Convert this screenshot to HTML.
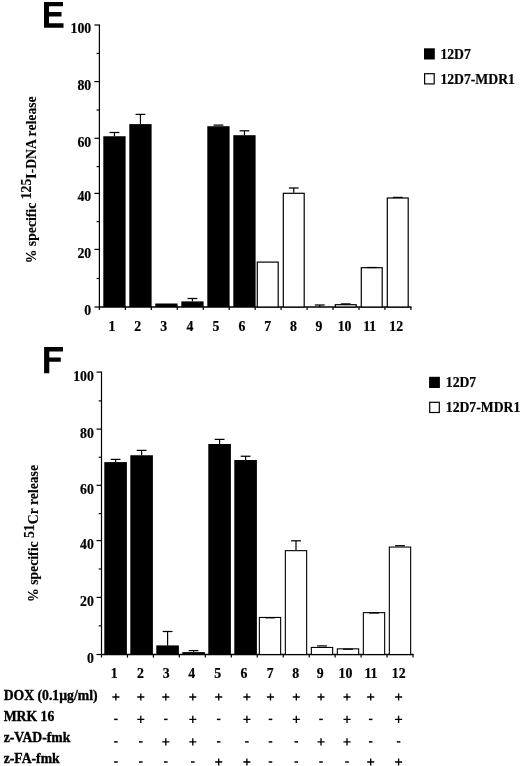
<!DOCTYPE html>
<html><head><meta charset="utf-8"><style>
html,body{margin:0;padding:0;background:#fff;}
body{width:520px;height:766px;overflow:hidden;position:relative;}
svg{position:absolute;left:0;top:0;filter:grayscale(1);}
text{font-family:"Liberation Serif", serif;font-weight:bold;fill:#000;stroke:#000;stroke-width:0.35px;}
.t{font-size:13.8px;stroke-width:0.2px;}
.l{font-size:13.7px;stroke-width:0.2px;}
.tb{font-size:13.7px;}
.tt{font-size:13.72px;stroke-width:0.12px;}
.big{font-family:"Liberation Sans", sans-serif;font-size:37px;}
</style></head><body>
<svg width="520" height="766" viewBox="0 0 520 766">
<rect width="520" height="766" fill="#fff"/>
<path d="M44 2H63V6.3H49V12H61.5V16.5H49V23.3H63.5V27.8H44Z" fill="#000"/>
<path d="M44.1 347H63V351.5H49.3V357.5H60.8V361.8H49.3V373.2H44.1Z" fill="#000"/>
<line x1="99.4" y1="24.4" x2="99.4" y2="310.1" stroke="#000" stroke-width="1.2"/>
<line x1="98.80000000000001" y1="307" x2="411.52" y2="307" stroke="#000" stroke-width="1.5"/>
<line x1="94.4" y1="25.00" x2="99.4" y2="25.00" stroke="#000" stroke-width="1.2"/>
<line x1="96.60000000000001" y1="53.40" x2="99.4" y2="53.40" stroke="#000" stroke-width="1.2"/>
<line x1="94.4" y1="81.60" x2="99.4" y2="81.60" stroke="#000" stroke-width="1.2"/>
<line x1="96.60000000000001" y1="110.00" x2="99.4" y2="110.00" stroke="#000" stroke-width="1.2"/>
<line x1="94.4" y1="138.30" x2="99.4" y2="138.30" stroke="#000" stroke-width="1.2"/>
<line x1="96.60000000000001" y1="166.60" x2="99.4" y2="166.60" stroke="#000" stroke-width="1.2"/>
<line x1="94.4" y1="193.40" x2="99.4" y2="193.40" stroke="#000" stroke-width="1.2"/>
<line x1="96.60000000000001" y1="221.60" x2="99.4" y2="221.60" stroke="#000" stroke-width="1.2"/>
<line x1="94.4" y1="249.40" x2="99.4" y2="249.40" stroke="#000" stroke-width="1.2"/>
<line x1="96.60000000000001" y1="278.50" x2="99.4" y2="278.50" stroke="#000" stroke-width="1.2"/>
<line x1="94.4" y1="307.00" x2="99.4" y2="307.00" stroke="#000" stroke-width="1.2"/>
<line x1="125.36" y1="307" x2="125.36" y2="310.1" stroke="#000" stroke-width="1.2"/>
<line x1="151.32" y1="307" x2="151.32" y2="310.1" stroke="#000" stroke-width="1.2"/>
<line x1="177.28" y1="307" x2="177.28" y2="310.1" stroke="#000" stroke-width="1.2"/>
<line x1="203.24" y1="307" x2="203.24" y2="310.1" stroke="#000" stroke-width="1.2"/>
<line x1="229.20" y1="307" x2="229.20" y2="310.1" stroke="#000" stroke-width="1.2"/>
<line x1="255.16" y1="307" x2="255.16" y2="310.1" stroke="#000" stroke-width="1.2"/>
<line x1="281.12" y1="307" x2="281.12" y2="310.1" stroke="#000" stroke-width="1.2"/>
<line x1="307.08" y1="307" x2="307.08" y2="310.1" stroke="#000" stroke-width="1.2"/>
<line x1="333.04" y1="307" x2="333.04" y2="310.1" stroke="#000" stroke-width="1.2"/>
<line x1="359.00" y1="307" x2="359.00" y2="310.1" stroke="#000" stroke-width="1.2"/>
<line x1="384.96" y1="307" x2="384.96" y2="310.1" stroke="#000" stroke-width="1.2"/>
<line x1="410.92" y1="307" x2="410.92" y2="310.1" stroke="#000" stroke-width="1.2"/>
<rect x="103.30" y="136.25" width="22.30" height="170.75" fill="#000"/>
<line x1="114.45" y1="132.50" x2="114.45" y2="136.25" stroke="#000" stroke-width="1.2"/>
<line x1="109.55" y1="132.50" x2="119.35" y2="132.50" stroke="#000" stroke-width="1.25"/>
<rect x="129.30" y="124.10" width="22.30" height="182.90" fill="#000"/>
<line x1="140.45" y1="114.40" x2="140.45" y2="124.10" stroke="#000" stroke-width="1.2"/>
<line x1="135.55" y1="114.40" x2="145.35" y2="114.40" stroke="#000" stroke-width="1.25"/>
<rect x="155.30" y="303.50" width="22.30" height="3.50" fill="#000"/>
<rect x="181.30" y="301.40" width="22.30" height="5.60" fill="#000"/>
<line x1="192.45" y1="298.50" x2="192.45" y2="301.40" stroke="#000" stroke-width="1.2"/>
<line x1="187.55" y1="298.50" x2="197.35" y2="298.50" stroke="#000" stroke-width="1.25"/>
<rect x="207.30" y="126.20" width="22.30" height="180.80" fill="#000"/>
<line x1="213.55" y1="125.10" x2="223.35" y2="125.10" stroke="#000" stroke-width="1.25"/>
<rect x="233.30" y="135.20" width="22.30" height="171.80" fill="#000"/>
<line x1="244.45" y1="130.80" x2="244.45" y2="135.20" stroke="#000" stroke-width="1.2"/>
<line x1="239.55" y1="130.80" x2="249.35" y2="130.80" stroke="#000" stroke-width="1.25"/>
<rect x="257.30" y="262.10" width="20.90" height="44.90" fill="#fff" stroke="#000" stroke-width="1.2"/>
<rect x="283.30" y="193.30" width="20.90" height="113.70" fill="#fff" stroke="#000" stroke-width="1.2"/>
<line x1="293.75" y1="188.00" x2="293.75" y2="192.70" stroke="#000" stroke-width="1.2"/>
<line x1="288.85" y1="188.00" x2="298.65" y2="188.00" stroke="#000" stroke-width="1.25"/>
<line x1="319.75" y1="305.00" x2="319.75" y2="307.00" stroke="#000" stroke-width="1.2"/>
<line x1="314.85" y1="305.00" x2="324.65" y2="305.00" stroke="#000" stroke-width="1.25"/>
<rect x="335.30" y="304.70" width="20.90" height="2.30" fill="#fff" stroke="#000" stroke-width="1.2"/>
<line x1="340.85" y1="303.90" x2="350.65" y2="303.90" stroke="#000" stroke-width="1.25"/>
<rect x="361.30" y="267.70" width="20.90" height="39.30" fill="#fff" stroke="#000" stroke-width="1.2"/>
<line x1="366.85" y1="267.50" x2="376.65" y2="267.50" stroke="#000" stroke-width="1.25"/>
<rect x="387.30" y="198.00" width="20.90" height="109.00" fill="#fff" stroke="#000" stroke-width="1.2"/>
<line x1="392.85" y1="197.40" x2="402.65" y2="197.40" stroke="#000" stroke-width="1.25"/>
<text x="91.2" y="33.40" text-anchor="end" class="t">100</text>
<text x="91.2" y="89.95" text-anchor="end" class="t">80</text>
<text x="91.2" y="147.10" text-anchor="end" class="t">60</text>
<text x="91.2" y="201.45" text-anchor="end" class="t">40</text>
<text x="91.2" y="258.00" text-anchor="end" class="t">20</text>
<text x="91.2" y="314.75" text-anchor="end" class="t">0</text>
<text x="112.00" y="331.35" text-anchor="middle" class="t">1</text>
<text x="137.70" y="331.35" text-anchor="middle" class="t">2</text>
<text x="163.80" y="331.35" text-anchor="middle" class="t">3</text>
<text x="190.00" y="331.35" text-anchor="middle" class="t">4</text>
<text x="216.00" y="331.35" text-anchor="middle" class="t">5</text>
<text x="242.00" y="331.35" text-anchor="middle" class="t">6</text>
<text x="267.70" y="331.35" text-anchor="middle" class="t">7</text>
<text x="293.40" y="331.35" text-anchor="middle" class="t">8</text>
<text x="319.00" y="331.35" text-anchor="middle" class="t">9</text>
<text x="344.60" y="331.35" text-anchor="middle" class="t">10</text>
<text x="369.70" y="331.35" text-anchor="middle" class="t">11</text>
<text x="396.20" y="331.35" text-anchor="middle" class="t">12</text>
<rect x="424" y="48.3" width="10.8" height="11.2" fill="#000"/>
<rect x="424.6" y="73.69999999999999" width="9.6" height="10.2" fill="#fff" stroke="#000" stroke-width="1.2"/>
<text x="440.4" y="59.05" class="l">12D7</text>
<text x="440.4" y="84.25" class="l">12D7-MDR1</text>
<text transform="translate(36.0,263.3) rotate(-90)" class="tt">% specific <tspan dy="-4.8" style="font-size:13.72px">125</tspan><tspan dy="4.8">I-DNA release</tspan></text>
<line x1="101.5" y1="371.4" x2="101.5" y2="657.6" stroke="#000" stroke-width="1.2"/>
<line x1="100.9" y1="654.5" x2="413.62" y2="654.5" stroke="#000" stroke-width="1.5"/>
<line x1="96.5" y1="372.10" x2="101.5" y2="372.10" stroke="#000" stroke-width="1.2"/>
<line x1="98.7" y1="400.90" x2="101.5" y2="400.90" stroke="#000" stroke-width="1.2"/>
<line x1="96.5" y1="429.10" x2="101.5" y2="429.10" stroke="#000" stroke-width="1.2"/>
<line x1="98.7" y1="457.30" x2="101.5" y2="457.30" stroke="#000" stroke-width="1.2"/>
<line x1="96.5" y1="485.30" x2="101.5" y2="485.30" stroke="#000" stroke-width="1.2"/>
<line x1="98.7" y1="513.60" x2="101.5" y2="513.60" stroke="#000" stroke-width="1.2"/>
<line x1="96.5" y1="540.60" x2="101.5" y2="540.60" stroke="#000" stroke-width="1.2"/>
<line x1="98.7" y1="569.00" x2="101.5" y2="569.00" stroke="#000" stroke-width="1.2"/>
<line x1="96.5" y1="597.40" x2="101.5" y2="597.40" stroke="#000" stroke-width="1.2"/>
<line x1="98.7" y1="625.80" x2="101.5" y2="625.80" stroke="#000" stroke-width="1.2"/>
<line x1="96.5" y1="654.50" x2="101.5" y2="654.50" stroke="#000" stroke-width="1.2"/>
<line x1="127.46" y1="654.5" x2="127.46" y2="657.6" stroke="#000" stroke-width="1.2"/>
<line x1="153.42" y1="654.5" x2="153.42" y2="657.6" stroke="#000" stroke-width="1.2"/>
<line x1="179.38" y1="654.5" x2="179.38" y2="657.6" stroke="#000" stroke-width="1.2"/>
<line x1="205.34" y1="654.5" x2="205.34" y2="657.6" stroke="#000" stroke-width="1.2"/>
<line x1="231.30" y1="654.5" x2="231.30" y2="657.6" stroke="#000" stroke-width="1.2"/>
<line x1="257.26" y1="654.5" x2="257.26" y2="657.6" stroke="#000" stroke-width="1.2"/>
<line x1="283.22" y1="654.5" x2="283.22" y2="657.6" stroke="#000" stroke-width="1.2"/>
<line x1="309.18" y1="654.5" x2="309.18" y2="657.6" stroke="#000" stroke-width="1.2"/>
<line x1="335.14" y1="654.5" x2="335.14" y2="657.6" stroke="#000" stroke-width="1.2"/>
<line x1="361.10" y1="654.5" x2="361.10" y2="657.6" stroke="#000" stroke-width="1.2"/>
<line x1="387.06" y1="654.5" x2="387.06" y2="657.6" stroke="#000" stroke-width="1.2"/>
<line x1="413.02" y1="654.5" x2="413.02" y2="657.6" stroke="#000" stroke-width="1.2"/>
<rect x="104.30" y="462.10" width="22.60" height="192.40" fill="#000"/>
<line x1="115.60" y1="459.40" x2="115.60" y2="462.10" stroke="#000" stroke-width="1.2"/>
<line x1="110.70" y1="459.40" x2="120.50" y2="459.40" stroke="#000" stroke-width="1.25"/>
<rect x="130.30" y="455.25" width="22.60" height="199.25" fill="#000"/>
<line x1="141.60" y1="450.40" x2="141.60" y2="455.25" stroke="#000" stroke-width="1.2"/>
<line x1="136.70" y1="450.40" x2="146.50" y2="450.40" stroke="#000" stroke-width="1.25"/>
<rect x="156.30" y="645.40" width="22.60" height="9.10" fill="#000"/>
<line x1="167.60" y1="631.50" x2="167.60" y2="645.40" stroke="#000" stroke-width="1.2"/>
<line x1="162.70" y1="631.50" x2="172.50" y2="631.50" stroke="#000" stroke-width="1.25"/>
<rect x="182.30" y="652.10" width="22.60" height="2.40" fill="#000"/>
<line x1="193.60" y1="650.60" x2="193.60" y2="652.10" stroke="#000" stroke-width="1.2"/>
<line x1="188.70" y1="650.60" x2="198.50" y2="650.60" stroke="#000" stroke-width="1.25"/>
<rect x="208.30" y="444.00" width="22.60" height="210.50" fill="#000"/>
<line x1="219.60" y1="439.40" x2="219.60" y2="444.00" stroke="#000" stroke-width="1.2"/>
<line x1="214.70" y1="439.40" x2="224.50" y2="439.40" stroke="#000" stroke-width="1.25"/>
<rect x="234.30" y="460.00" width="22.60" height="194.50" fill="#000"/>
<line x1="245.60" y1="456.25" x2="245.60" y2="460.00" stroke="#000" stroke-width="1.2"/>
<line x1="240.70" y1="456.25" x2="250.50" y2="456.25" stroke="#000" stroke-width="1.25"/>
<rect x="259.35" y="617.45" width="21.30" height="37.05" fill="#fff" stroke="#000" stroke-width="1.1"/>
<line x1="265.10" y1="617.80" x2="274.90" y2="617.80" stroke="#000" stroke-width="1.25"/>
<rect x="285.35" y="550.65" width="21.30" height="103.85" fill="#fff" stroke="#000" stroke-width="1.1"/>
<line x1="296.00" y1="540.80" x2="296.00" y2="550.10" stroke="#000" stroke-width="1.2"/>
<line x1="291.10" y1="540.80" x2="300.90" y2="540.80" stroke="#000" stroke-width="1.25"/>
<rect x="311.35" y="647.45" width="21.30" height="7.05" fill="#fff" stroke="#000" stroke-width="1.1"/>
<line x1="317.10" y1="645.90" x2="326.90" y2="645.90" stroke="#000" stroke-width="1.25"/>
<rect x="337.35" y="648.85" width="21.30" height="5.65" fill="#fff" stroke="#000" stroke-width="1.1"/>
<line x1="343.10" y1="649.20" x2="352.90" y2="649.20" stroke="#000" stroke-width="1.25"/>
<rect x="363.35" y="612.65" width="21.30" height="41.85" fill="#fff" stroke="#000" stroke-width="1.1"/>
<line x1="369.10" y1="613.00" x2="378.90" y2="613.00" stroke="#000" stroke-width="1.25"/>
<rect x="389.35" y="547.05" width="21.30" height="107.45" fill="#fff" stroke="#000" stroke-width="1.1"/>
<line x1="395.10" y1="545.70" x2="404.90" y2="545.70" stroke="#000" stroke-width="1.25"/>
<text x="93.9" y="381.05" text-anchor="end" class="t">100</text>
<text x="93.9" y="437.75" text-anchor="end" class="t">80</text>
<text x="93.9" y="494.35" text-anchor="end" class="t">60</text>
<text x="93.9" y="548.85" text-anchor="end" class="t">40</text>
<text x="93.9" y="605.70" text-anchor="end" class="t">20</text>
<text x="93.9" y="663.00" text-anchor="end" class="t">0</text>
<text x="114.20" y="678.2" text-anchor="middle" class="t">1</text>
<text x="140.40" y="678.2" text-anchor="middle" class="t">2</text>
<text x="166.10" y="678.2" text-anchor="middle" class="t">3</text>
<text x="191.70" y="678.2" text-anchor="middle" class="t">4</text>
<text x="217.80" y="678.2" text-anchor="middle" class="t">5</text>
<text x="244.00" y="678.2" text-anchor="middle" class="t">6</text>
<text x="270.30" y="678.2" text-anchor="middle" class="t">7</text>
<text x="295.80" y="678.2" text-anchor="middle" class="t">8</text>
<text x="320.30" y="678.2" text-anchor="middle" class="t">9</text>
<text x="345.40" y="678.2" text-anchor="middle" class="t">10</text>
<text x="371.00" y="678.2" text-anchor="middle" class="t">11</text>
<text x="398.70" y="678.2" text-anchor="middle" class="t">12</text>
<rect x="429.1" y="376.8" width="10.8" height="11.2" fill="#000"/>
<rect x="429.70000000000005" y="402.3" width="9.6" height="10.2" fill="#fff" stroke="#000" stroke-width="1.2"/>
<text x="445.8" y="387.2" class="l">12D7</text>
<text x="445.8" y="412.25" class="l">12D7-MDR1</text>
<text transform="translate(37.8,602) rotate(-90)" class="tt">% specific <tspan dy="-4.2" style="font-size:13.72px">51</tspan><tspan dy="4.2">Cr release</tspan></text>
<text x="3.7" y="699.9" class="tb">DOX (0.1µg/ml)</text>
<path d="M112.35 697.00H119.45M115.90 693.45V700.55" stroke="#000" stroke-width="1.35" fill="none"/>
<path d="M137.25 697.00H144.35M140.80 693.45V700.55" stroke="#000" stroke-width="1.35" fill="none"/>
<path d="M162.25 697.00H169.35M165.80 693.45V700.55" stroke="#000" stroke-width="1.35" fill="none"/>
<path d="M189.25 697.00H196.35M192.80 693.45V700.55" stroke="#000" stroke-width="1.35" fill="none"/>
<path d="M215.15 697.00H222.25M218.70 693.45V700.55" stroke="#000" stroke-width="1.35" fill="none"/>
<path d="M243.35 697.00H250.45M246.90 693.45V700.55" stroke="#000" stroke-width="1.35" fill="none"/>
<path d="M266.95 697.00H274.05M270.50 693.45V700.55" stroke="#000" stroke-width="1.35" fill="none"/>
<path d="M292.75 697.00H299.85M296.30 693.45V700.55" stroke="#000" stroke-width="1.35" fill="none"/>
<path d="M317.45 697.00H324.55M321.00 693.45V700.55" stroke="#000" stroke-width="1.35" fill="none"/>
<path d="M343.45 697.00H350.55M347.00 693.45V700.55" stroke="#000" stroke-width="1.35" fill="none"/>
<path d="M367.15 697.00H374.25M370.70 693.45V700.55" stroke="#000" stroke-width="1.35" fill="none"/>
<path d="M395.05 697.00H402.15M398.60 693.45V700.55" stroke="#000" stroke-width="1.35" fill="none"/>
<text x="3.7" y="721.05" class="tb">MRK 16</text>
<path d="M114.10 719.40H117.70" stroke="#000" stroke-width="1.5" fill="none"/>
<path d="M137.25 719.40H144.35M140.80 715.85V722.95" stroke="#000" stroke-width="1.35" fill="none"/>
<path d="M164.00 719.40H167.60" stroke="#000" stroke-width="1.5" fill="none"/>
<path d="M189.25 719.40H196.35M192.80 715.85V722.95" stroke="#000" stroke-width="1.35" fill="none"/>
<path d="M216.90 719.40H220.50" stroke="#000" stroke-width="1.5" fill="none"/>
<path d="M243.35 719.40H250.45M246.90 715.85V722.95" stroke="#000" stroke-width="1.35" fill="none"/>
<path d="M268.70 719.40H272.30" stroke="#000" stroke-width="1.5" fill="none"/>
<path d="M292.75 719.40H299.85M296.30 715.85V722.95" stroke="#000" stroke-width="1.35" fill="none"/>
<path d="M319.20 719.40H322.80" stroke="#000" stroke-width="1.5" fill="none"/>
<path d="M343.45 719.40H350.55M347.00 715.85V722.95" stroke="#000" stroke-width="1.35" fill="none"/>
<path d="M368.90 719.40H372.50" stroke="#000" stroke-width="1.5" fill="none"/>
<path d="M395.05 719.40H402.15M398.60 715.85V722.95" stroke="#000" stroke-width="1.35" fill="none"/>
<text x="3.7" y="742.3" class="tb">z-VAD-fmk</text>
<path d="M114.10 741.90H117.70" stroke="#000" stroke-width="1.5" fill="none"/>
<path d="M139.00 741.90H142.60" stroke="#000" stroke-width="1.5" fill="none"/>
<path d="M162.25 741.90H169.35M165.80 738.35V745.45" stroke="#000" stroke-width="1.35" fill="none"/>
<path d="M189.25 741.90H196.35M192.80 738.35V745.45" stroke="#000" stroke-width="1.35" fill="none"/>
<path d="M216.90 741.90H220.50" stroke="#000" stroke-width="1.5" fill="none"/>
<path d="M245.10 741.90H248.70" stroke="#000" stroke-width="1.5" fill="none"/>
<path d="M268.70 741.90H272.30" stroke="#000" stroke-width="1.5" fill="none"/>
<path d="M294.50 741.90H298.10" stroke="#000" stroke-width="1.5" fill="none"/>
<path d="M317.45 741.90H324.55M321.00 738.35V745.45" stroke="#000" stroke-width="1.35" fill="none"/>
<path d="M343.45 741.90H350.55M347.00 738.35V745.45" stroke="#000" stroke-width="1.35" fill="none"/>
<path d="M368.90 741.90H372.50" stroke="#000" stroke-width="1.5" fill="none"/>
<path d="M396.80 741.90H400.40" stroke="#000" stroke-width="1.5" fill="none"/>
<text x="3.7" y="763.35" class="tb">z-FA-fmk</text>
<path d="M114.10 762.00H117.70" stroke="#000" stroke-width="1.5" fill="none"/>
<path d="M139.00 762.00H142.60" stroke="#000" stroke-width="1.5" fill="none"/>
<path d="M164.00 762.00H167.60" stroke="#000" stroke-width="1.5" fill="none"/>
<path d="M191.00 762.00H194.60" stroke="#000" stroke-width="1.5" fill="none"/>
<path d="M215.15 762.00H222.25M218.70 758.45V765.55" stroke="#000" stroke-width="1.35" fill="none"/>
<path d="M243.35 762.00H250.45M246.90 758.45V765.55" stroke="#000" stroke-width="1.35" fill="none"/>
<path d="M268.70 762.00H272.30" stroke="#000" stroke-width="1.5" fill="none"/>
<path d="M294.50 762.00H298.10" stroke="#000" stroke-width="1.5" fill="none"/>
<path d="M319.20 762.00H322.80" stroke="#000" stroke-width="1.5" fill="none"/>
<path d="M345.20 762.00H348.80" stroke="#000" stroke-width="1.5" fill="none"/>
<path d="M367.15 762.00H374.25M370.70 758.45V765.55" stroke="#000" stroke-width="1.35" fill="none"/>
<path d="M395.05 762.00H402.15M398.60 758.45V765.55" stroke="#000" stroke-width="1.35" fill="none"/>
</svg>
</body></html>
